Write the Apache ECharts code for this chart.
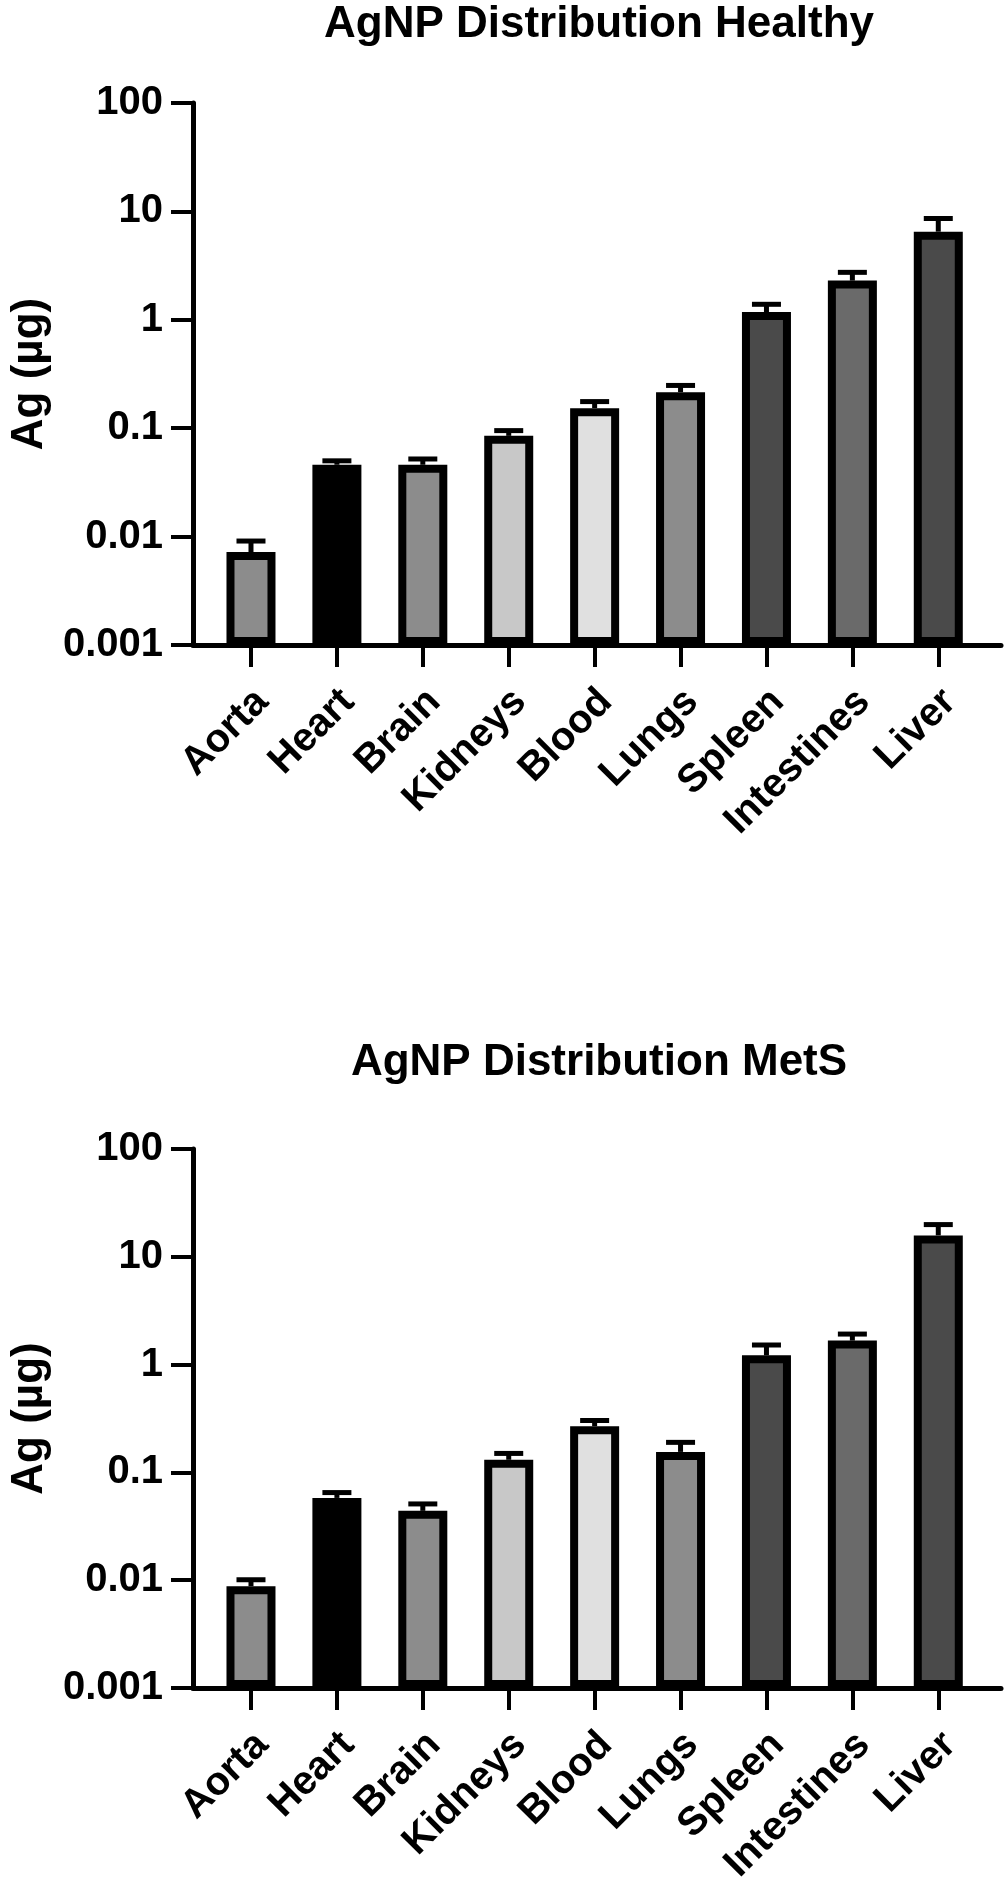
<!DOCTYPE html>
<html>
<head>
<meta charset="utf-8">
<script src="https://cdn.jsdelivr.net/npm/echarts@6/dist/echarts.min.js"></script>
<style>
html,body{margin:0;padding:0;background:#fff;}
#chart{width:1006px;height:1887px;}
</style>
</head>
<body>
<div id="chart"></div>
<script>
const categories = ['Aorta','Heart','Brain','Kidneys','Blood','Lungs','Spleen','Intestines','Liver'];
const healthyMean  = [0.0072, 0.046, 0.046, 0.085, 0.153, 0.215, 1.18, 2.3, 6.5];
const healthyUpper = [0.0091, 0.050, 0.052, 0.095, 0.176, 0.248, 1.39, 2.74, 8.6];
const metsMean  = [0.0088, 0.058, 0.044, 0.131, 0.268, 0.155, 1.22, 1.67, 15.8];
const metsUpper = [0.0101, 0.065, 0.051, 0.150, 0.303, 0.190, 1.52, 1.92, 19.9];
const yTickLabels = ['0.001','0.01','0.1','1','10','100'];
const titles = ['AgNP Distribution Healthy', 'AgNP Distribution MetS'];
const yName = 'Ag (\u00b5g)';
const barColors = ['#8c8c8c','#000000','#8c8c8c','#c8c8c8','#e0e0e0','#8c8c8c','#4a4a4a','#6a6a6a','#4a4a4a'];

const FONT = '"Liberation Sans", Arial, Helvetica, sans-serif';
const idx = categories.map((c, i) => i);

function yFmt(v) {
  const e = Math.round(Math.log10(v));
  return yTickLabels[e + 3] !== undefined ? yTickLabels[e + 3] : '';
}

function makeX(gi) {
  return {
    type: 'value', gridIndex: gi, min: -0.675, max: 8.73,
    splitLine: {show: false},
    axisLine: {onZero: false, lineStyle: {color: '#000', width: 5}},
    axisTick: {customValues: idx, length: 22, lineStyle: {color: '#000', width: 4}},
    axisLabel: {customValues: idx, rotate: 45, margin: 62, padding: [0, -16, 0, 0], color: '#000',
      fontFamily: FONT, fontWeight: 'bold', fontSize: 40,
      formatter: v => categories[Math.round(v)] || ''}
  };
}
function makeY(gi) {
  return {
    type: 'log', logBase: 10, gridIndex: gi, min: 0.001, max: 100, interval: 1,
    startValue: 0.001,
    name: yName, nameLocation: 'middle', nameGap: 138, nameRotate: 90,
    nameTextStyle: {fontFamily: FONT, fontWeight: 'bold', fontSize: 44, color: '#000'},
    splitLine: {show: false},
    axisLine: {show: true, onZero: false, lineStyle: {color: '#000', width: 5}},
    axisTick: {show: true, length: 22, lineStyle: {color: '#000', width: 4}},
    minorTick: {show: false},
    axisLabel: {margin: 30, color: '#000', fontFamily: FONT, fontWeight: 'bold', fontSize: 40,
      formatter: yFmt}
  };
}
function barSeries(gi, vals) {
  return {
    type: 'bar', xAxisIndex: gi, yAxisIndex: gi, barWidth: 49, z: 2,
    data: vals.map((v, i) => ({value: [i, v], itemStyle: {color: barColors[i]}})),
    itemStyle: {borderColor: '#000', borderWidth: 8},
    emphasis: {disabled: true}, animation: false
  };
}
function errSeries(gi, means, uppers) {
  return {
    type: 'custom', xAxisIndex: gi, yAxisIndex: gi, z: 3,
    data: means.map((m, i) => [i, m, uppers[i]]),
    renderItem: function (params, api) {
      const p0 = api.coord([api.value(0), api.value(1)]);
      const p1 = api.coord([api.value(0), api.value(2)]);
      const hw = 14.5;
      return {type: 'group', children: [
        {type: 'line', shape: {x1: p0[0], y1: p0[1], x2: p1[0], y2: p1[1]}, style: {stroke: '#000', lineWidth: 5}},
        {type: 'line', shape: {x1: p1[0] - hw, y1: p1[1], x2: p1[0] + hw, y2: p1[1]}, style: {stroke: '#000', lineWidth: 5}}
      ]};
    },
    animation: false
  };
}

const chart = echarts.init(document.getElementById('chart'), null, {renderer: 'canvas'});
chart.setOption({
  backgroundColor: '#fff',
  animation: false,
  title: [
    {text: titles[0], left: 594, top: -2, textAlign: 'center',
      textStyle: {fontFamily: FONT, fontWeight: 'bold', fontSize: 44, color: '#000'}},
    {text: titles[1], left: 594, top: 1036, textAlign: 'center',
      textStyle: {fontFamily: FONT, fontWeight: 'bold', fontSize: 44, color: '#000'}}
  ],
  grid: [
    {left: 187, right: 5, top: 103, height: 542},
    {left: 187, right: 5, top: 1149, height: 542}
  ],
  xAxis: [makeX(0), makeX(1)],
  yAxis: [makeY(0), makeY(1)],
  series: [
    barSeries(0, healthyMean), errSeries(0, healthyMean, healthyUpper),
    barSeries(1, metsMean), errSeries(1, metsMean, metsUpper)
  ]
});
</script>
</body>
</html>
